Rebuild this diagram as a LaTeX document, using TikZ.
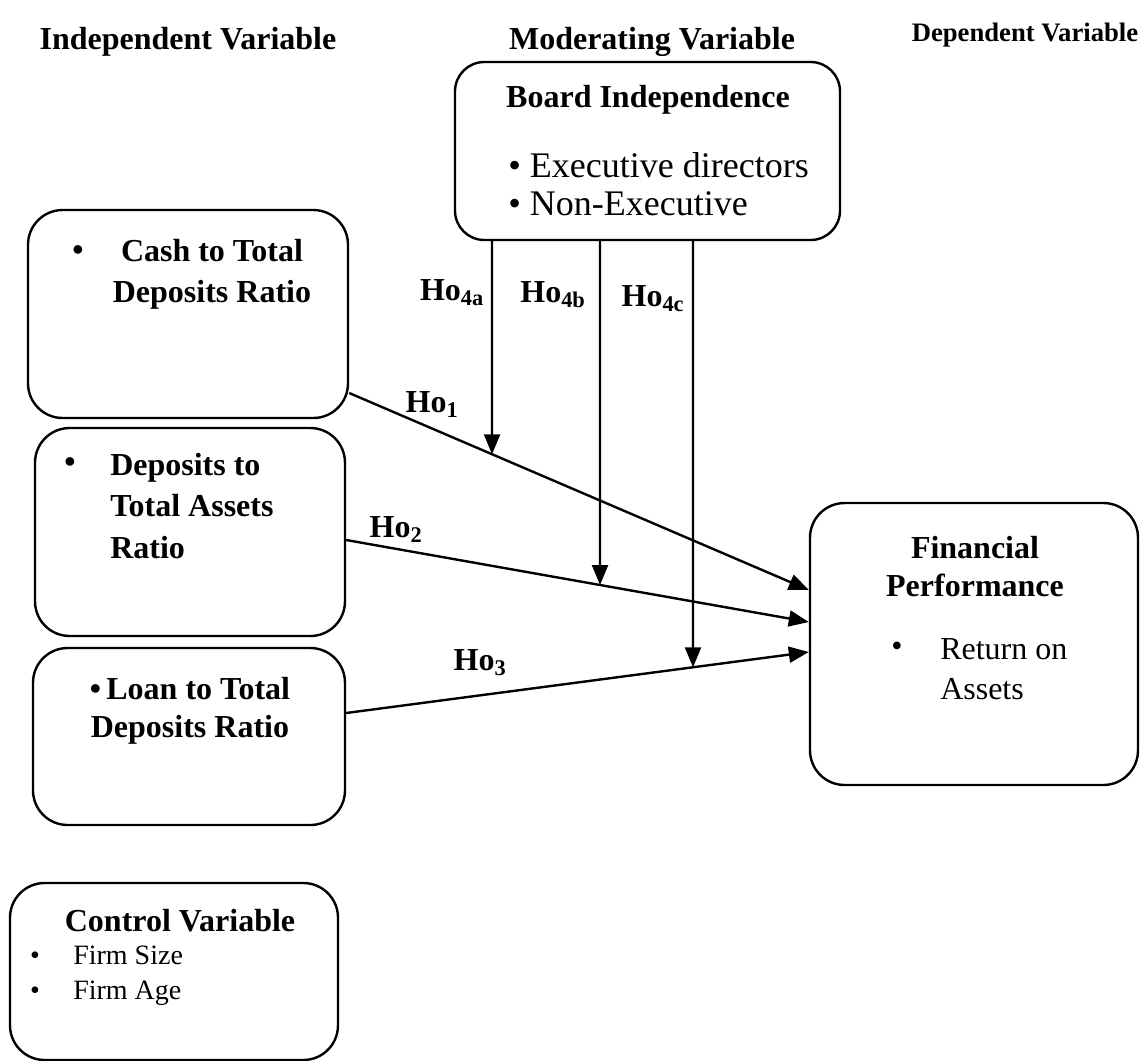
\documentclass[tikz,border=0pt]{standalone}
\usepackage{fontspec}
\setmainfont{Liberation Serif}
\usetikzlibrary{arrows.meta}

\tikzset{
  box/.style={draw, line width=1.8pt, rounded corners=26pt, inner sep=0pt},
  arr/.style={line width=1.8pt, -{Triangle[length=15pt,width=12pt]}},
  hd/.style={inner sep=0pt, font=\fontsize{24}{31}\selectfont\bfseries},
  txt/.style={inner sep=0pt, font=\fontsize{24}{31}\selectfont},
  small/.style={inner sep=0pt, font=\fontsize{21}{26}\selectfont},
}

\begin{document}
\begin{tikzpicture}[x=0.75pt, y=-0.75pt]
\useasboundingbox (0,0) rectangle (1140,1061);

% headings
\node[hd] (indep) at (188,42) {Independent Variable};
\node[hd] (moder) at (652,42) {Moderating Variable};
\node[hd, font=\fontsize{20}{24}\selectfont\bfseries] (depen) at (1025,35) {Dependent Variable};

% boxes
\node[box, minimum width=288.75pt, minimum height=133.5pt, rounded corners=22pt] (board) at (647.5,151) {};
\node[box, minimum width=240pt, minimum height=156pt] (cash) at (188,314) {};
\node[box, minimum width=232.5pt, minimum height=156pt] (dep) at (190,532) {};
\node[box, minimum width=234pt, minimum height=132.75pt] (loan) at (189,736.5) {};
\node[box, minimum width=246pt, minimum height=211.5pt] (fp) at (974,644) {};
\node[box, minimum width=246pt, minimum height=132.75pt] (ctrl) at (174,971.5) {};

% box texts
\node[hd] (boardt) at (648,100) {Board Independence};
\node[txt, anchor=west, align=left, font=\fontsize{27}{28.5}\selectfont] (boardl) at (508,184)
  {\textbullet\ Executive directors\\\textbullet\ Non-Executive};

\node[hd] (cashb) at (78,253) {\textbullet};
\node[hd, align=center] (casht) at (212,274) {Cash to Total\\Deposits Ratio};

\node[hd] (depb) at (70,465) {\textbullet};
\node[hd, anchor=west, align=left] (dept) at (110,506) {Deposits to\\Total Assets\\Ratio};

\node[hd, align=center, font=\fontsize{24}{28.5}\selectfont\bfseries] (loant) at (190,711)
  {\textbullet\,Loan to Total\\Deposits Ratio};

\node[hd, align=center, font=\fontsize{24}{28.5}\selectfont\bfseries] (fpt) at (975,567) {Financial\\Performance};
\node[txt] (fpb) at (897,649) {\textbullet};
\node[txt, anchor=west, align=left, font=\fontsize{24}{30}\selectfont] (fpl) at (940,669) {Return on\\Assets};

\node[hd] (ctrlt) at (180,921) {Control Variable};
\node[small, align=left] (ctrlb) at (35,976) {\textbullet\\\textbullet};
\node[small, anchor=west, align=left] (ctrll) at (73,976) {Firm Size\\Firm Age};

% paths
\coordinate (h1s) at (cash.east |- 0,393);
\coordinate (h1e) at (fp.west |- 0,590);
\coordinate (h2s) at (dep.east |- 0,540);
\coordinate (h2e) at (fp.west |- 0,622);
\coordinate (h3s) at (loan.east |- 0,713);
\coordinate (h3e) at (fp.west |- 0,652);

\draw[arr] (h1s) -- (h1e);
\draw[arr] (h2s) -- (h2e);
\draw[arr] (h3s) -- (h3e);

\draw[arr] (board.south -| 492,0) -- (intersection of h1s--h1e and 492,0--492,1);
\draw[arr] (board.south -| 600,0) -- (intersection of h2s--h2e and 600,0--600,1);
\draw[arr] (board.south -| 693,0) -- (intersection of h3s--h3e and 693,0--693,1);

% labels
\node[hd] (l4a) at (452,293) {Ho\textsubscript{4a}};
\node[hd] (l4b) at (553,295) {Ho\textsubscript{4b}};
\node[hd] (l4c) at (653,299) {Ho\textsubscript{4c}};
\node[hd] (l1) at (432,405) {Ho\textsubscript{1}};
\node[hd] (l2) at (396,530) {Ho\textsubscript{2}};
\node[hd] (l3) at (480,663) {Ho\textsubscript{3}};
\end{tikzpicture}
\end{document}
